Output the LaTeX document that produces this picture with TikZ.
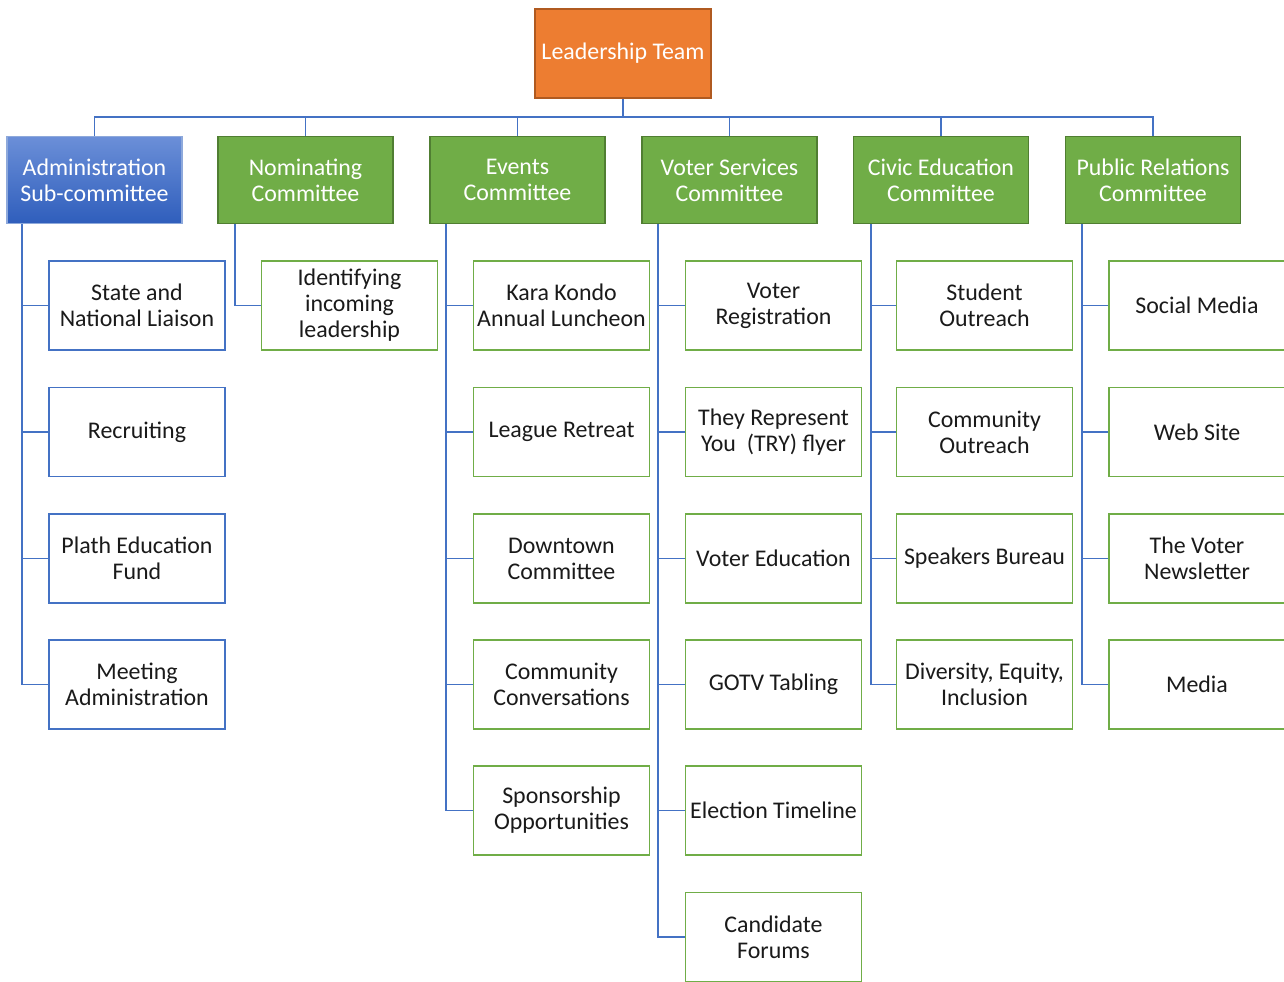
\documentclass[tikz,border=0pt]{standalone}
\usepackage{fontspec}
\setmainfont{Carlito}
\usepackage{tikz}
\usetikzlibrary{positioning}

\definecolor{leadorange}{HTML}{ED7D31}
\definecolor{leadborder}{HTML}{B05A20}
\definecolor{comgreen}{HTML}{70AD47}
\definecolor{comborder}{HTML}{507E32}
\definecolor{linkblue}{HTML}{4472C4}
\definecolor{adminlight}{HTML}{6B8FD8}
\definecolor{admindark}{HTML}{2F5EBC}
\definecolor{adminborder}{HTML}{8EA9DB}
\definecolor{tasktext}{HTML}{1A1A1A}

\newcommand{\boxfont}{\fontsize{13.6}{14.8}\selectfont}

\begin{document}
\begin{tikzpicture}[
    x=0.02cm, y=-0.02cm,
    lead/.style={rectangle, draw=leadborder, line width=1.1pt, fill=leadorange, text=white, minimum width=3.52cm, minimum height=1.78cm, align=center, font=\boxfont},
    committee/.style={rectangle, draw=comborder, line width=1.1pt, fill=comgreen, text=white, minimum width=3.5cm, minimum height=1.74cm, align=center, font=\boxfont},
    admin/.style={committee, draw=adminborder, top color=adminlight, bottom color=admindark},
    task/.style={rectangle, draw=comgreen, line width=1.1pt, fill=white, text=tasktext, minimum width=3.52cm, minimum height=1.78cm, inner sep=1pt, align=center, font=\boxfont},
    admintask/.style={task, draw=linkblue},
    link/.style={draw=linkblue, line width=1.1pt}
]
\useasboundingbox (0,0) rectangle (1284,981);

% Leadership
\node[lead] (lead) at (623,53.5) {Leadership Team};
\coordinate (bus) at (623,117);

% Committees
\node[admin] (adm) at (94.5,180) {Administration\\Sub-committee};
\node[committee] (nom) at (305.5,180) {Nominating\\Committee};
\node[committee] (evt) at (517.5,180) {Events\\Committee};
\node[committee] (vot) at (729.5,180) {Voter Services\\Committee};
\node[committee] (civ) at (941,180) {Civic Education\\Committee};
\node[committee] (pr) at (1153,180) {Public Relations\\Committee};

% Bus to committees
\draw[link] (lead.south) -- (bus);
\foreach \c in {adm,nom,evt,vot,civ,pr}
    \draw[link] (\c.north) |- (bus);

% Administration tasks
\node[admintask] (adm1) at (137,305.5) {State and\\National Liaison};
\node[admintask] (adm2) at (137,432) {Recruiting};
\node[admintask] (adm3) at (137,558.5) {Plath Education\\Fund};
\node[admintask] (adm4) at (137,684.5) {Meeting\\Administration};

% Nominating tasks
\node[task] (nom1) at (349.5,305.5) {Identifying\\incoming\\leadership};

% Events tasks
\node[task] (evt1) at (561.5,305.5) {Kara Kondo\\Annual Luncheon};
\node[task] (evt2) at (561.5,432) {League Retreat};
\node[task] (evt3) at (561.5,558.5) {Downtown\\Committee};
\node[task] (evt4) at (561.5,684.5) {Community\\Conversations};
\node[task] (evt5) at (561.5,810.5) {Sponsorship\\Opportunities};

% Voter services tasks
\node[task] (vot1) at (773.5,305.5) {Voter\\Registration};
\node[task] (vot2) at (773.5,432) {They Represent\\You~ (TRY) flyer};
\node[task] (vot3) at (773.5,558.5) {Voter Education};
\node[task] (vot4) at (773.5,684.5) {GOTV Tabling};
\node[task] (vot5) at (773.5,810.5) {Election Timeline};
\node[task] (vot6) at (773.5,937) {Candidate\\Forums};

% Civic education tasks
\node[task] (civ1) at (984.5,305.5) {Student\\Outreach};
\node[task] (civ2) at (984.5,432) {Community\\Outreach};
\node[task] (civ3) at (984.5,558.5) {Speakers Bureau};
\node[task] (civ4) at (984.5,684.5) {Diversity, Equity,\\Inclusion};

% Public relations tasks
\node[task] (pr1) at (1197,305.5) {Social Media};
\node[task] (pr2) at (1197,432) {Web Site};
\node[task] (pr3) at (1197,558.5) {The Voter\\Newsletter};
\node[task] (pr4) at (1197,684.5) {Media};

% Committees to tasks
\foreach \t in {1,...,4}
    \draw[link] ([xshift=0.32cm]adm.south west) |- (adm\t.west);
\draw[link] ([xshift=0.36cm]nom.south west) |- (nom1.west);
\foreach \t in {1,...,5}
    \draw[link] ([xshift=0.34cm]evt.south west) |- (evt\t.west);
\foreach \t in {1,...,6}
    \draw[link] ([xshift=0.34cm]vot.south west) |- (vot\t.west);
\foreach \t in {1,...,4}
    \draw[link] ([xshift=0.36cm]civ.south west) |- (civ\t.west);
\foreach \t in {1,...,4}
    \draw[link] ([xshift=0.34cm]pr.south west) |- (pr\t.west);

\end{tikzpicture}
\end{document}
